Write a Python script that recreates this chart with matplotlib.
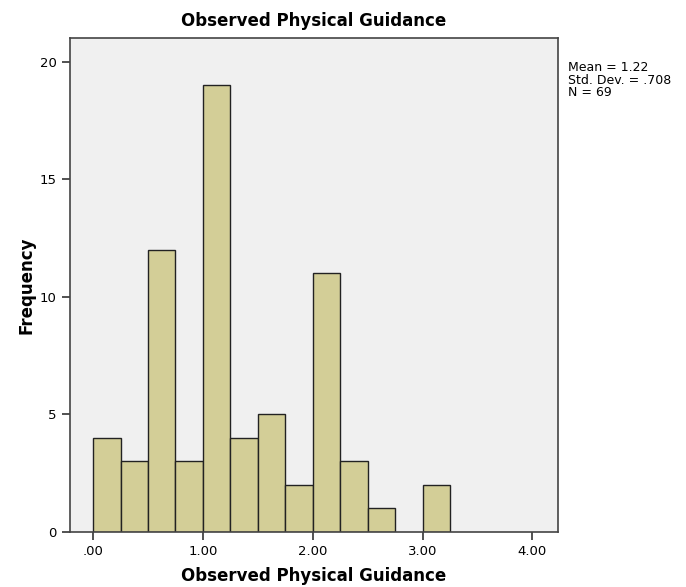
import matplotlib
matplotlib.use("Agg")
import matplotlib.pyplot as plt
import numpy as np

bin_edges = [0.0, 0.25, 0.5, 0.75, 1.0, 1.25, 1.5, 1.75, 2.0, 2.25, 2.5, 2.75, 3.0, 3.25]
counts = [4, 3, 12, 3, 19, 4, 5, 2, 11, 3, 1, 0, 2]
xticks = [0, 1, 2, 3, 4]
xticklabels = [".00", "1.00", "2.00", "3.00", "4.00"]
yticks = [0, 5, 10, 15, 20]
stats_text = "Mean = 1.22\nStd. Dev. = .708\nN = 69"

plt.rcParams['font.family'] = ['DejaVu Sans']

fig = plt.figure(figsize=(6.86, 5.87), dpi=100)
ax = fig.add_axes([0.102, 0.0937, 0.711, 0.8415])
ax.set_facecolor("#f0f0f0")

lefts = bin_edges[:-1]
widths = np.diff(bin_edges)
for l, w, c in zip(lefts, widths, counts):
    if c > 0:
        ax.bar(l, c, width=w, align='edge', color="#d3ce97", edgecolor="#222222", linewidth=1.0, zorder=2)

ax.set_xlim(-0.21, 4.23)
ax.set_ylim(0, 21.0)
ax.set_xticks(xticks)
ax.set_xticklabels(xticklabels, fontsize=9.5)
ax.set_yticks(yticks)
ax.set_yticklabels([str(v) for v in yticks], fontsize=9.5)
ax.tick_params(axis='both', direction='out', length=6, width=1.2, color="#333333")
for s in ax.spines.values():
    s.set_color("#444444")
    s.set_linewidth(1.2)

ax.set_xlabel("Observed Physical Guidance", fontsize=12, fontweight='bold', labelpad=6)
ax.set_ylabel("Frequency", fontsize=12, fontweight='bold', labelpad=3)
ax.set_title("Observed Physical Guidance", fontsize=12, fontweight='bold', pad=9)

fig.text(0.828, 0.896, stats_text, fontsize=9, va='top', ha='left', linespacing=0.95)

fig.savefig("out.png", dpi=100)
